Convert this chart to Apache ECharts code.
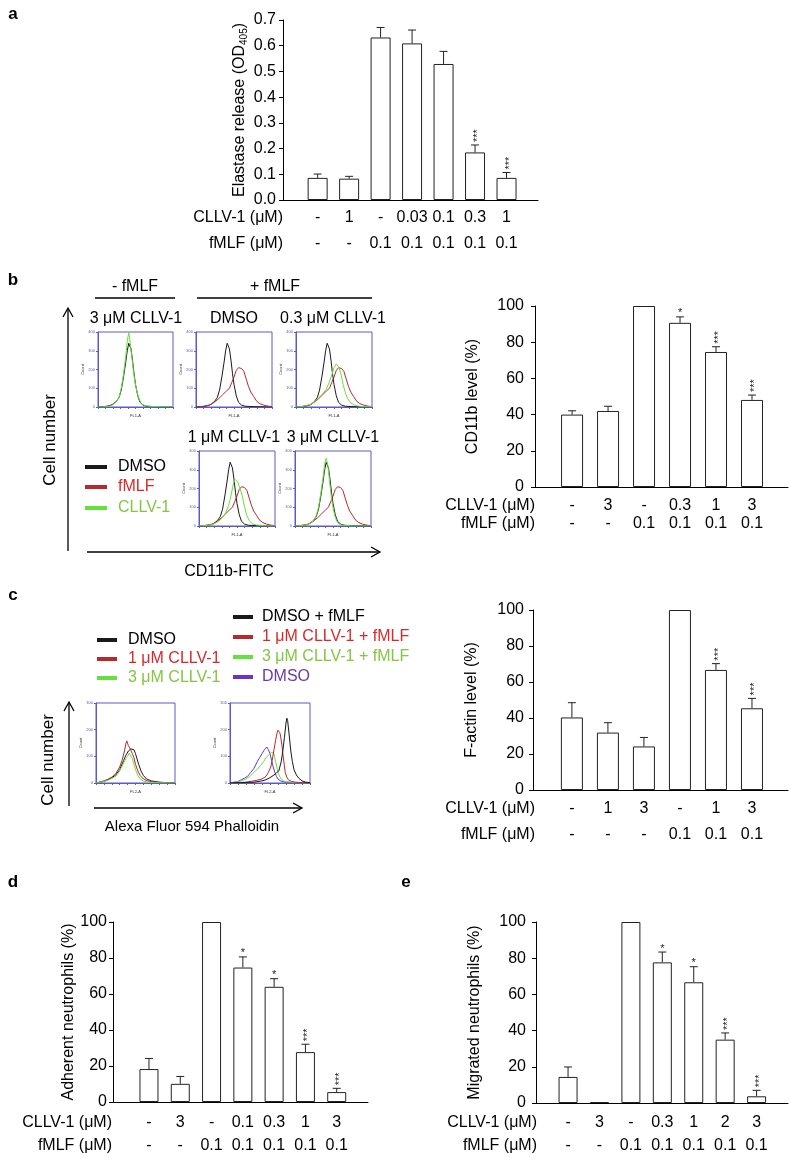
<!DOCTYPE html>
<html>
<head>
    <meta charset="utf-8">
    <title>CLLV-1 neutrophil assays</title>
    <script type="text/javascript" src="https://cdn.jsdelivr.net/npm/echarts@6.0.0/dist/echarts.min.js"></script>
    <style>body { margin: 0; background: #fff; }</style>
</head>
<body>
<div id="main" style="width: 790px;height:1158px;"></div>
<script type="text/javascript">

    var FONT = '"Liberation Sans", Arial, sans-serif';

    // a - elastase release
    var aCllv = ['-', '1', '-', '0.03', '0.1', '0.3', '1'];
    var aFmlf = ['-', '-', '0.1', '0.1', '0.1', '0.1', '0.1'];
    var aMean = [0.086, 0.083, 0.632, 0.609, 0.529, 0.185, 0.086];
    var aSem = [0.015, 0.009, 0.039, 0.052, 0.049, 0.029, 0.021];
    var aStars = ['', '', '', '', '', '***', '***'];

    // b - CD11b level
    var bCllv = ['-', '3', '-', '0.3', '1', '3'];
    var bFmlf = ['-', '-', '0.1', '0.1', '0.1', '0.1'];
    var bMean = [40, 42, 100, 90.7, 74.6, 48.1];
    var bSem = [2.1, 2.6, 0, 3.3, 2.9, 2.7];
    var bStars = ['', '', '', '*', '***', '***'];

    // c - F-actin level
    var cCllv = ['-', '1', '3', '-', '1', '3'];
    var cFmlf = ['-', '-', '-', '0.1', '0.1', '0.1'];
    var cMean = [40.3, 31.9, 24.2, 100, 66.7, 45.4];
    var cSem = [8.2, 5.5, 5.0, 0, 3.5, 5.5];
    var cStars = ['', '', '', '', '***', '***'];

    // d - adherent neutrophils
    var dCllv = ['-', '3', '-', '0.1', '0.3', '1', '3'];
    var dFmlf = ['-', '-', '0.1', '0.1', '0.1', '0.1', '0.1'];
    var dMean = [18.3, 10.1, 100, 74.7, 64.0, 27.7, 5.5];
    var dSem = [5.9, 4.1, 0, 5.9, 4.5, 4.4, 2.1];
    var dStars = ['', '', '', '*', '*', '***', '***'];

    // e - migrated neutrophils
    var eCllv = ['-', '3', '-', '0.3', '1', '2', '3'];
    var eFmlf = ['-', '-', '0.1', '0.1', '0.1', '0.1', '0.1'];
    var eMean = [14.4, 0.5, 100, 77.7, 66.7, 35.0, 3.7];
    var eSem = [5.5, 0, 0, 5.7, 8.6, 3.7, 3.3];
    var eStars = ['', '', '', '*', '*', '***', '***'];

    // flow histograms, panel b (x = % of box width, y = count)
    var hbDmso = [[0,0],[10,3],[16,8],[20,15],[24,28],[28,50],[31,90],[34,160],[37,240],[39,300],[41,340],[42,348],[44,310],[46,250],[48,180],[50,120],[53,60],[56,25],[60,10],[65,4],[75,2],[100,0]];
    var hbFmlf = [[0,0],[5,2],[12,5],[18,10],[24,25],[30,45],[35,65],[40,85],[44,100],[47,130],[50,160],[53,195],[56,210],[58,216],[60,205],[63,190],[66,150],[69,110],[72,80],[76,55],[80,30],[84,18],[89,10],[94,5],[100,2]];
    var hb1Cllv = [[0,0],[10,2],[16,5],[20,12],[24,28],[28,50],[31,100],[34,175],[37,270],[39,350],[41,398],[43,340],[45,270],[47,200],[49,140],[52,80],[55,40],[58,18],[62,8],[70,3],[80,2],[100,1]];
    var hb3Cllv = [[0,0],[8,3],[14,8],[20,15],[25,30],[30,50],[35,70],[40,95],[44,135],[47,170],[50,210],[53,230],[56,215],[59,180],[62,120],[65,75],[68,45],[72,22],[78,8],[85,3],[100,1]];
    var hb4Cllv = [[0,0],[10,3],[18,8],[24,20],[30,40],[35,70],[39,110],[42,160],[45,220],[47,250],[49,255],[51,235],[54,200],[57,160],[60,100],[63,55],[66,30],[70,12],[76,5],[85,2],[100,0]];
    var hb5Cllv = [[0,0],[10,3],[16,7],[20,14],[24,28],[28,55],[31,100],[34,175],[37,260],[39,330],[41,362],[43,330],[45,260],[47,180],[49,120],[52,60],[55,25],[58,10],[63,4],[75,1],[100,0]];

    // flow histograms, panel c
    var hc1Dmso = [[0,0],[5,3],[10,6],[15,12],[20,20],[25,30],[30,50],[35,85],[38,105],[41,120],[44,128],[46,135],[48,125],[50,110],[52,90],[54,70],[57,45],[60,28],[64,15],[70,8],[80,3],[90,1],[100,0]];
    var hc1Cllv1 = [[0,0],[5,4],[10,8],[15,14],[20,22],[25,35],[30,60],[33,85],[36,120],[38,150],[39,158],[41,140],[43,130],[46,110],[48,95],[50,70],[53,45],[56,28],[60,15],[65,8],[72,4],[85,2],[100,0]];
    var hc1Cllv3 = [[0,0],[5,3],[10,6],[15,10],[20,17],[25,25],[30,45],[35,75],[38,92],[40,100],[42,112],[44,105],[46,92],[48,70],[50,50],[53,28],[56,15],[60,7],[66,3],[80,1],[100,0]];
    var hc2Fmlf = [[0,0],[20,2],[30,3],[40,8],[45,12],[50,20],[55,30],[58,38],[61,45],[64,80],[66,120],[68,170],[70,225],[71,243],[72,235],[74,180],[76,120],[78,80],[80,50],[83,30],[86,18],[90,8],[95,3],[100,1]];
    var hc2Cllv1 = [[0,0],[20,3],[30,8],[40,15],[45,25],[48,40],[51,60],[53,90],[55,125],[57,160],[59,190],[60,198],[62,190],[63,180],[65,140],[66,110],[68,65],[69,40],[71,22],[73,12],[77,6],[82,3],[100,0]];
    var hc2Cllv3 = [[0,0],[5,3],[10,5],[15,9],[20,15],[25,25],[30,40],[34,52],[38,65],[42,80],[45,95],[48,105],[50,110],[52,115],[54,118],[55,110],[57,80],[59,55],[60,40],[62,25],[64,15],[67,8],[70,5],[80,2],[100,0]];
    var hc2Dmso = [[0,0],[5,3],[10,6],[14,12],[18,18],[22,25],[26,40],[30,55],[34,80],[37,95],[40,110],[43,125],[46,135],[48,125],[50,110],[52,85],[54,60],[56,40],[58,25],[60,15],[63,8],[68,4],[75,2],[100,0]];

    var BLACK = '#1a1a1a', RED = '#b52a2a', GREEN = '#66e03a', PURPLE = '#6633cc', BOX = '#5a5ac8';

    var grids = [], xAxes = [], yAxes = [], series = [], graphics = [];

    function txt(s, x, y, opt) {
        opt = opt || {};
        graphics.push({
            type: 'text', x: x, y: y, rotation: opt.rot || 0, silent: true,
            style: {
                text: s, fill: opt.color || '#000',
                font: (opt.bold ? 'bold ' : '') + (opt.size || 16) + 'px ' + FONT,
                align: opt.align || 'center', verticalAlign: 'middle'
            }
        });
    }

    function seg(x1, y1, x2, y2, color, w) {
        graphics.push({type: 'line', silent: true, shape: {x1: x1, y1: y1, x2: x2, y2: y2},
            style: {stroke: color || '#000', lineWidth: w || 1}});
    }

    function barPanel(p) {
        var gi = grids.length;
        grids.push({left: p.left, top: p.top, width: p.width, height: p.height});
        xAxes.push({
            gridIndex: gi, type: 'value', min: p.xMin, max: p.xMax,
            axisLine: {show: true, onZero: false, lineStyle: {color: '#000'}},
            axisTick: {show: false}, axisLabel: {show: false}, splitLine: {show: false}
        });
        yAxes.push({
            gridIndex: gi, type: 'value', min: 0, max: p.yMax, interval: p.yStep,
            name: p.yName, nameLocation: 'middle', nameGap: p.nameGap,
            nameTextStyle: {fontSize: 16, fontFamily: FONT, color: '#000', rich: p.rich},
            axisLine: {show: true, onZero: false, lineStyle: {color: '#000'}},
            axisTick: {show: true, length: 4, lineStyle: {color: '#000'}},
            axisLabel: {fontSize: 16, fontFamily: FONT, color: '#000', margin: p.margin,
                formatter: function (v) { return p.dec ? v.toFixed(p.dec) : String(v); }},
            splitLine: {show: false}
        });
        series.push({
            type: 'bar', xAxisIndex: gi, yAxisIndex: gi, barWidth: p.barWidth, silent: true,
            data: p.mean.map(function (v, i) { return [i, v]; }),
            itemStyle: {color: '#fff', borderColor: '#222', borderWidth: 1}
        });
        // error bars, stars and the two rows of doses under the axis
        series.push({
            type: 'custom', xAxisIndex: gi, yAxisIndex: gi, clip: false, silent: true,
            data: p.mean.map(function (v, i) { return [i, v, p.sem[i]]; }),
            renderItem: function (params, api) {
                var i = params.dataIndex;
                var x = api.value(0), m = api.value(1), s = api.value(2);
                var bot = api.coord([x, m]);
                var top = api.coord([x, m + s]);
                var ax = api.coord([x, 0]);
                var kids = [];
                if (s > 0) {
                    kids.push({type: 'line', shape: {x1: bot[0], y1: bot[1], x2: top[0], y2: top[1]}, style: {stroke: '#222', lineWidth: 1}});
                    kids.push({type: 'line', shape: {x1: top[0] - 4, y1: top[1], x2: top[0] + 4, y2: top[1]}, style: {stroke: '#222', lineWidth: 1}});
                }
                var st = p.stars[i];
                if (st.length > 1) {
                    kids.push({type: 'text', x: top[0] + 3, y: top[1] - 3, rotation: Math.PI / 2,
                        style: {text: st, font: '11px ' + FONT, fill: '#222', align: 'left', verticalAlign: 'middle'}});
                } else if (st) {
                    kids.push({type: 'text', x: top[0], y: top[1] + 2,
                        style: {text: st, font: '11px ' + FONT, fill: '#222', align: 'center', verticalAlign: 'bottom'}});
                }
                kids.push({type: 'text', x: ax[0], y: ax[1] + p.rows[0],
                    style: {text: p.cllv[i], font: '16px ' + FONT, fill: '#000', align: 'center', verticalAlign: 'middle'}});
                kids.push({type: 'text', x: ax[0], y: ax[1] + p.rows[1],
                    style: {text: p.fmlf[i], font: '16px ' + FONT, fill: '#000', align: 'center', verticalAlign: 'middle'}});
                return {type: 'group', children: kids};
            }
        });
        txt('CLLV-1 (\u03bcM)', p.head, p.top + p.height + p.rows[0], {align: 'right'});
        txt('fMLF (\u03bcM)', p.head, p.top + p.height + p.rows[1], {align: 'right'});
    }

    function flowPanel(p) {
        var gi = grids.length;
        grids.push({left: p.left, top: p.top, width: p.width, height: p.height, show: true, borderColor: BOX, borderWidth: 1});
        xAxes.push({
            gridIndex: gi, type: 'value', min: 0, max: 100, interval: 10,
            name: p.xName, nameLocation: 'middle', nameGap: 7,
            nameTextStyle: {fontSize: 4, color: '#333'},
            axisLine: {show: true, onZero: false, lineStyle: {color: BOX}},
            axisTick: {show: true, length: 2, lineStyle: {color: BOX}},
            axisLabel: {show: false}, splitLine: {show: false}
        });
        yAxes.push({
            gridIndex: gi, type: 'value', min: 0, max: p.yMax, interval: 100,
            name: 'Count', nameLocation: 'middle', nameGap: 9,
            nameTextStyle: {fontSize: 4, color: '#333'},
            axisLine: {show: true, onZero: false, lineStyle: {color: BOX}},
            axisTick: {show: true, length: 2, lineStyle: {color: BOX}},
            axisLabel: {fontSize: 4, color: BOX, margin: 3}, splitLine: {show: false}
        });
        p.curves.forEach(function (c) {
            series.push({type: 'line', xAxisIndex: gi, yAxisIndex: gi, data: c[0], showSymbol: false,
                silent: true, lineStyle: {color: c[1], width: 1}});
        });
    }

    // bar panels
    barPanel({left: 283, top: 20, width: 255, height: 180, xMin: -1.1, xMax: 7.0, yMax: 0.7, yStep: 0.1, dec: 1,
        mean: aMean, sem: aSem, stars: aStars, cllv: aCllv, fmlf: aFmlf, barWidth: 20, margin: 7,
        yName: 'Elastase release (OD{sub|405})', nameGap: 34, head: 283, rows: [18, 44],
        rich: {sub: {fontSize: 10, fontFamily: FONT, color: '#000', verticalAlign: 'bottom', padding: [9, 0, 0, 0]}}});
    barPanel({left: 535, top: 306, width: 253, height: 181, xMin: -1.03, xMax: 6.0, yMax: 100, yStep: 20,
        mean: bMean, sem: bSem, stars: bStars, cllv: bCllv, fmlf: bFmlf, barWidth: 22, margin: 11,
        yName: 'CD11b level (%)', nameGap: 54, head: 535, rows: [19, 37]});
    barPanel({left: 533, top: 610, width: 255, height: 180, xMin: -1.08, xMax: 6.0, yMax: 100, yStep: 20,
        mean: cMean, sem: cSem, stars: cStars, cllv: cCllv, fmlf: cFmlf, barWidth: 22, margin: 9,
        yName: 'F-actin level (%)', nameGap: 53, head: 535, rows: [19, 45]});
    barPanel({left: 113, top: 922, width: 255, height: 180, xMin: -1.15, xMax: 7.0, yMax: 100, yStep: 20,
        mean: dMean, sem: dSem, stars: dStars, cllv: dCllv, fmlf: dFmlf, barWidth: 19, margin: 6,
        yName: 'Adherent neutrophils (%)', nameGap: 33, head: 112, rows: [21, 44]});
    barPanel({left: 536, top: 922, width: 252, height: 181, xMin: -1.02, xMax: 7.0, yMax: 100, yStep: 20,
        mean: eMean, sem: eSem, stars: eStars, cllv: eCllv, fmlf: eFmlf, barWidth: 19, margin: 10,
        yName: 'Migrated neutrophils (%)', nameGap: 53, head: 537, rows: [20, 43]});

    // flow cytometry panels
    flowPanel({left: 98, top: 332, width: 75, height: 75, yMax: 400, xName: 'FL1-A', curves: [[hbDmso, BLACK], [hb1Cllv, GREEN]]});
    flowPanel({left: 196, top: 332, width: 76, height: 75, yMax: 400, xName: 'FL1-A', curves: [[hbDmso, BLACK], [hbFmlf, RED]]});
    flowPanel({left: 296, top: 332, width: 76, height: 75, yMax: 400, xName: 'FL1-A', curves: [[hbDmso, BLACK], [hbFmlf, RED], [hb3Cllv, GREEN]]});
    flowPanel({left: 199, top: 451, width: 76, height: 75, yMax: 400, xName: 'FL1-A', curves: [[hbDmso, BLACK], [hbFmlf, RED], [hb4Cllv, GREEN]]});
    flowPanel({left: 295, top: 451, width: 76, height: 75, yMax: 400, xName: 'FL1-A', curves: [[hbDmso, BLACK], [hbFmlf, RED], [hb5Cllv, GREEN]]});
    flowPanel({left: 96, top: 703, width: 79, height: 80, yMax: 300, xName: 'FL2-A', curves: [[hc1Dmso, BLACK], [hc1Cllv1, RED], [hc1Cllv3, GREEN]]});
    flowPanel({left: 230, top: 703, width: 80, height: 80, yMax: 300, xName: 'FL2-A', curves: [[hc2Dmso, PURPLE], [hc2Cllv3, GREEN], [hc2Cllv1, RED], [hc2Fmlf, BLACK]]});

    // panel letters
    txt('a', 13, 14, {bold: true, size: 17});
    txt('b', 13, 280, {bold: true, size: 17});
    txt('c', 13, 595, {bold: true, size: 17});
    txt('d', 13, 882, {bold: true, size: 17});
    txt('e', 406, 882, {bold: true, size: 17});

    // panel b annotations
    txt('- fMLF', 135, 287);
    txt('+ fMLF', 275, 287);
    seg(95, 298, 175, 298, '#000', 1.3);
    seg(197, 298, 372, 298, '#000', 1.3);
    txt('3 \u03bcM CLLV-1', 136, 319);
    txt('DMSO', 234, 319);
    txt('0.3 \u03bcM CLLV-1', 333, 319);
    txt('1 \u03bcM CLLV-1', 234, 438);
    txt('3 \u03bcM CLLV-1', 333, 438);
    seg(85, 467, 107, 467, BLACK, 4);
    seg(85, 487, 107, 487, RED, 4);
    seg(85, 508, 107, 508, GREEN, 4);
    txt('DMSO', 118, 467, {align: 'left'});
    txt('fMLF', 118, 487, {align: 'left', color: '#d62a2a'});
    txt('CLLV-1', 118, 508, {align: 'left', color: '#86c443'});
    seg(68, 551, 68, 309, '#000', 1.3);
    graphics.push({type: 'polyline', silent: true, shape: {points: [[63, 317], [68, 308], [73, 317]]}, style: {stroke: '#000', lineWidth: 1.3, fill: null}});
    seg(87, 552, 379, 552, '#000', 1.3);
    graphics.push({type: 'polyline', silent: true, shape: {points: [[371, 547], [380, 552], [371, 557]]}, style: {stroke: '#000', lineWidth: 1.3, fill: null}});
    txt('Cell number', 50, 440, {rot: Math.PI / 2, size: 17});
    txt('CD11b-FITC', 229, 572);

    // panel c annotations
    seg(97, 640, 117, 640, BLACK, 4);
    seg(97, 659, 117, 659, RED, 4);
    seg(97, 678, 117, 678, GREEN, 4);
    txt('DMSO', 128, 640, {align: 'left'});
    txt('1 \u03bcM CLLV-1', 128, 659, {align: 'left', color: '#d62a2a'});
    txt('3 \u03bcM CLLV-1', 128, 678, {align: 'left', color: '#86c443'});
    seg(233, 617, 253, 617, BLACK, 4);
    seg(233, 637, 253, 637, RED, 4);
    seg(233, 657, 253, 657, GREEN, 4);
    seg(233, 677, 253, 677, PURPLE, 4);
    txt('DMSO + fMLF', 262, 617, {align: 'left'});
    txt('1 \u03bcM CLLV-1 + fMLF', 262, 637, {align: 'left', color: '#d62a2a'});
    txt('3 \u03bcM CLLV-1 + fMLF', 262, 657, {align: 'left', color: '#86c443'});
    txt('DMSO', 262, 677, {align: 'left', color: '#6a3aa8'});
    seg(69, 806, 69, 703, '#000', 1.3);
    graphics.push({type: 'polyline', silent: true, shape: {points: [[64, 711], [69, 702], [74, 711]]}, style: {stroke: '#000', lineWidth: 1.3, fill: null}});
    seg(94, 808, 301, 808, '#000', 1.3);
    graphics.push({type: 'polyline', silent: true, shape: {points: [[293, 803], [302, 808], [293, 813]]}, style: {stroke: '#000', lineWidth: 1.3, fill: null}});
    txt('Cell number', 48, 760, {rot: Math.PI / 2, size: 17});
    txt('Alexa Fluor 594 Phalloidin', 192, 827, {size: 15});

    var myChart = echarts.init(document.getElementById('main'));
    myChart.setOption({
        animation: false,
        backgroundColor: '#fff',
        textStyle: {fontFamily: FONT},
        grid: grids,
        xAxis: xAxes,
        yAxis: yAxes,
        series: series,
        graphic: graphics
    });

</script>
</body>
</html>
